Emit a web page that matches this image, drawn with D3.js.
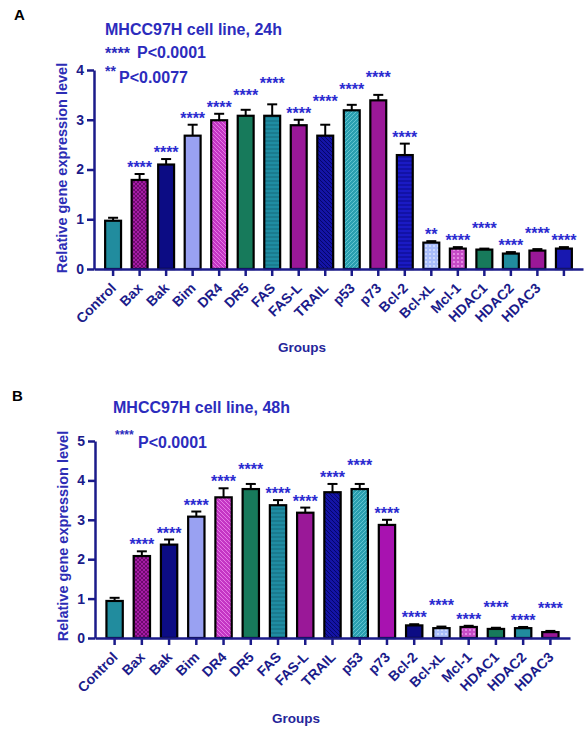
<!DOCTYPE html>
<html lang="en">
<head>
<meta charset="UTF-8">
<title>MHCC97H relative gene expression</title>
<script src="https://d3js.org/d3.v7.min.js"></script>
<style>
  body { margin: 0; background: #fff; }
  svg text { font-family: "Liberation Sans", Arial, sans-serif; font-weight: bold; }
  .axis path, .axis line { stroke: #1b1b8a; stroke-width: 2.5px; }
  .axis text { fill: #1b1b8a; }
</style>
</head>
<body>
<svg width="587" height="729"></svg>
<script>
// ---- data, panel A (24h) ----
const groupsA = ["Control", "Bax", "Bak", "Bim", "DR4", "DR5", "FAS", "FAS-L", "TRAIL", "p53", "p73",
  "Bcl-2", "Bcl-xL", "Mcl-1", "HDAC1", "HDAC2", "HDAC3", ""];
const meansA = [0.97, 1.79, 2.10, 2.68, 2.99, 3.08, 3.08, 2.89, 2.68, 3.19, 3.39,
  2.29, 0.53, 0.41, 0.39, 0.31, 0.37, 0.41];
const errorsA = [0.06, 0.12, 0.11, 0.22, 0.13, 0.12, 0.23, 0.11, 0.22, 0.11, 0.11,
  0.23, 0.03, 0.03, 0.02, 0.03, 0.03, 0.03];
const starsA = ["", "****", "****", "****", "****", "****", "****", "****", "****", "****", "****",
  "****", "**", "****", "****", "****", "****", "****"];
const fillsA = ["teal", "magCross", "navy", "peri", "magDiag", "green", "tealHoriz", "purple", "navyDiag",
  "tealDiag", "purple", "blueHoriz", "ltblueDot", "pinkDot", "green", "teal", "purple", "blue"];
const legendMarksA = ["****", "**"];
const legendTextA = ["P<0.0001", "P<0.0077"];

// ---- data, panel B (48h) ----
const groupsB = ["Control", "Bax", "Bak", "Bim", "DR4", "DR5", "FAS", "FAS-L", "TRAIL", "p53", "p73",
  "Bcl-2", "Bcl-xL", "Mcl-1", "HDAC1", "HDAC2", "HDAC3"];
const meansB = [0.94, 2.08, 2.37, 3.08, 3.57, 3.78, 3.37, 3.18, 3.70, 3.78, 2.87,
  0.32, 0.25, 0.28, 0.23, 0.25, 0.15];
const errorsB = [0.08, 0.12, 0.13, 0.13, 0.23, 0.13, 0.13, 0.13, 0.21, 0.13, 0.13,
  0.03, 0.04, 0.03, 0.03, 0.03, 0.03];
const starsB = ["", "****", "****", "****", "****", "****", "****", "****", "****", "****", "****",
  "****", "****", "****", "****", "****", "****"];
const fillsB = ["teal", "magCross", "navy", "peri", "magDiag", "green", "tealHoriz", "purple", "navyDiag",
  "tealDiag", "magenta", "navy", "ltblueDot", "pinkDot", "green", "teal", "purple"];
const legendMarksB = ["****"];
const legendTextB = ["P<0.0001"];

// bar fills (base colour + optional texture)
const swatches = {
  teal:      { base: "#218c9e" },
  magCross:  { base: "#a51ca5", line: "#6e0a6e", kind: "cross" },
  navy:      { base: "#0c0c84" },
  peri:      { base: "#99a1f2" },
  magDiag:   { base: "#c436c4", line: "#e67ae6", kind: "back" },
  green:     { base: "#177a5b" },
  tealHoriz: { base: "#1f8ca2", line: "#146a7c", kind: "horiz" },
  purple:    { base: "#9a1898" },
  navyDiag:  { base: "#1414a6", line: "#05056a", kind: "back" },
  tealDiag:  { base: "#2a9fb0", line: "#62c4d0", kind: "fwd" },
  blueHoriz: { base: "#1a1ac4", line: "#0a0a88", kind: "horiz" },
  ltblueDot: { base: "#a9bdfb", line: "#dfe7ff", kind: "dots" },
  pinkDot:   { base: "#c64cc6", line: "#f2a6f2", kind: "dots" },
  blue:      { base: "#1818b0" },
  magenta:   { base: "#a812b0" }
};

const svg = d3.select("svg");
const defs = svg.append("defs");

Object.entries(swatches).forEach(([id, s]) => {
  const p = defs.append("pattern")
    .attr("id", id)
    .attr("patternUnits", "userSpaceOnUse")
    .attr("width", 4).attr("height", 4);
  p.append("rect").attr("width", 4).attr("height", 4).attr("fill", s.base);
  const ln = (d) => p.append("path").attr("d", d).attr("stroke", s.line).attr("stroke-width", 1).attr("fill", "none");
  if (s.kind === "cross") { ln("M0,0L4,4M4,0L0,4"); }
  if (s.kind === "back") { ln("M-1,-1L5,5M-1,3L1,5M3,-1L5,1"); }
  if (s.kind === "fwd") { ln("M-1,5L5,-1M-1,1L1,-1M3,5L5,3"); }
  if (s.kind === "horiz") { ln("M0,1L4,1"); }
  if (s.kind === "dots") { p.append("circle").attr("cx", 2).attr("cy", 2).attr("r", 0.9).attr("fill", s.line); }
});

function drawPanel(cfg) {
  const x = d3.scaleBand()
    .domain(cfg.groups.map((d, i) => i))
    .range(cfg.xRange)
    .paddingInner(0.4)
    .paddingOuter(0.42);
  const y = d3.scaleLinear().domain([0, cfg.yMax]).range(cfg.yRange);
  const g = svg.append("g");

  // bars
  g.selectAll("rect.bar")
    .data(cfg.means)
    .join("rect")
    .attr("class", "bar")
    .attr("x", (d, i) => x(i))
    .attr("width", x.bandwidth())
    .attr("y", d => y(d))
    .attr("height", d => y(0) - y(d))
    .attr("fill", (d, i) => `url(#${cfg.fills[i]})`)
    .attr("stroke", "#000")
    .attr("stroke-width", 2.2);

  // error bars (upper half)
  const eb = g.selectAll("g.err")
    .data(cfg.means)
    .join("g")
    .attr("class", "err")
    .attr("transform", (d, i) => `translate(${x(i) + x.bandwidth() / 2},0)`);
  eb.append("line")
    .attr("y1", d => y(d)).attr("y2", (d, i) => y(d + cfg.errors[i]))
    .attr("stroke", "#000").attr("stroke-width", 2);
  eb.append("line")
    .attr("x1", -5).attr("x2", 5)
    .attr("y1", (d, i) => y(d + cfg.errors[i])).attr("y2", (d, i) => y(d + cfg.errors[i]))
    .attr("stroke", "#000").attr("stroke-width", 2);

  // significance marks: just above the cap, lifted when they would collide with the neighbour
  let prev = null;
  const starY = cfg.means.map((d, i) => {
    if (!cfg.stars[i]) { prev = null; return null; }
    let c = y(d + cfg.errors[i]) - 10;
    if (prev !== null && Math.abs(c - prev) < 5) c = prev - 12;
    prev = c;
    return c;
  });
  g.selectAll("text.star")
    .data(cfg.stars)
    .join("text")
    .attr("class", "star")
    .attr("x", (d, i) => x(i) + x.bandwidth() / 2)
    .attr("y", (d, i) => starY[i] === null ? 0 : starY[i] + 9)
    .attr("text-anchor", "middle")
    .attr("font-size", 16)
    .attr("fill", "#2b2bd0")
    .text(d => d);

  // axes
  const xAxis = g.append("g")
    .attr("class", "axis")
    .attr("transform", `translate(0,${y(0)})`)
    .call(d3.axisBottom(x).tickSize(7).tickSizeOuter(0).tickFormat(i => cfg.groups[i]));
  xAxis.selectAll("text")
    .attr("y", 0).attr("dy", null)
    .attr("font-size", 14)
    .attr("fill", "#1f1f99")
    .attr("text-anchor", "end")
    .attr("transform", "translate(4,20) rotate(-45)");

  const yAxis = g.append("g")
    .attr("class", "axis")
    .attr("transform", `translate(${cfg.xRange[0]},0)`)
    .call(d3.axisLeft(y).ticks(cfg.yMax).tickSize(7).tickSizeOuter(0).tickPadding(3));
  yAxis.selectAll("text").attr("font-size", 14);

  // titles
  g.append("text")
    .attr("x", cfg.panelPos[0]).attr("y", cfg.panelPos[1])
    .attr("font-size", 15).attr("fill", "#000")
    .text(cfg.panel);
  g.append("text")
    .attr("x", cfg.titlePos[0]).attr("y", cfg.titlePos[1])
    .attr("font-size", 16).attr("fill", "#2c2cbd")
    .text(cfg.title);
  cfg.legendMarks.forEach((m, i) => {
    const L = cfg.legendPos[i];
    g.append("text")
      .attr("x", L[0]).attr("y", L[1])
      .attr("font-size", L[4]).attr("fill", "#2c2cbd")
      .text(m);
    g.append("text")
      .attr("x", L[2]).attr("y", L[3])
      .attr("font-size", 16).attr("fill", "#2c2cbd")
      .text(cfg.legendText[i]);
  });
  g.append("text")
    .attr("transform", `translate(${cfg.yLabelPos[0]},${cfg.yLabelPos[1]}) rotate(-90)`)
    .attr("text-anchor", "middle")
    .attr("font-size", 14.5).attr("fill", "#2d2db5")
    .text("Relative gene expression level");
  g.append("text")
    .attr("x", cfg.xLabelPos[0]).attr("y", cfg.xLabelPos[1])
    .attr("text-anchor", "middle")
    .attr("font-size", 13.5).attr("fill", "#25259a")
    .text("Groups");
}

drawPanel({
  panel: "A", panelPos: [14, 20],
  title: "MHCC97H cell line, 24h", titlePos: [105, 35],
  legendMarks: legendMarksA, legendText: legendTextA,
  legendPos: [[105, 59, 137, 58, 16], [105, 76, 119, 83, 14]],
  groups: groupsA, means: meansA, errors: errorsA, stars: starsA, fills: fillsA,
  xRange: [94, 583], yRange: [269, 70], yMax: 4,
  yLabelPos: [67, 168], xLabelPos: [302, 352]
});

drawPanel({
  panel: "B", panelPos: [12, 401],
  title: "MHCC97H cell line, 48h", titlePos: [113, 413],
  legendMarks: legendMarksB, legendText: legendTextB,
  legendPos: [[115, 439, 138, 448, 12]],
  groups: groupsB, means: meansB, errors: errorsB, stars: starsB, fills: fillsB,
  xRange: [95, 570], yRange: [638, 441], yMax: 5,
  yLabelPos: [68, 536], xLabelPos: [296, 723]
});
</script>
</body>
</html>
